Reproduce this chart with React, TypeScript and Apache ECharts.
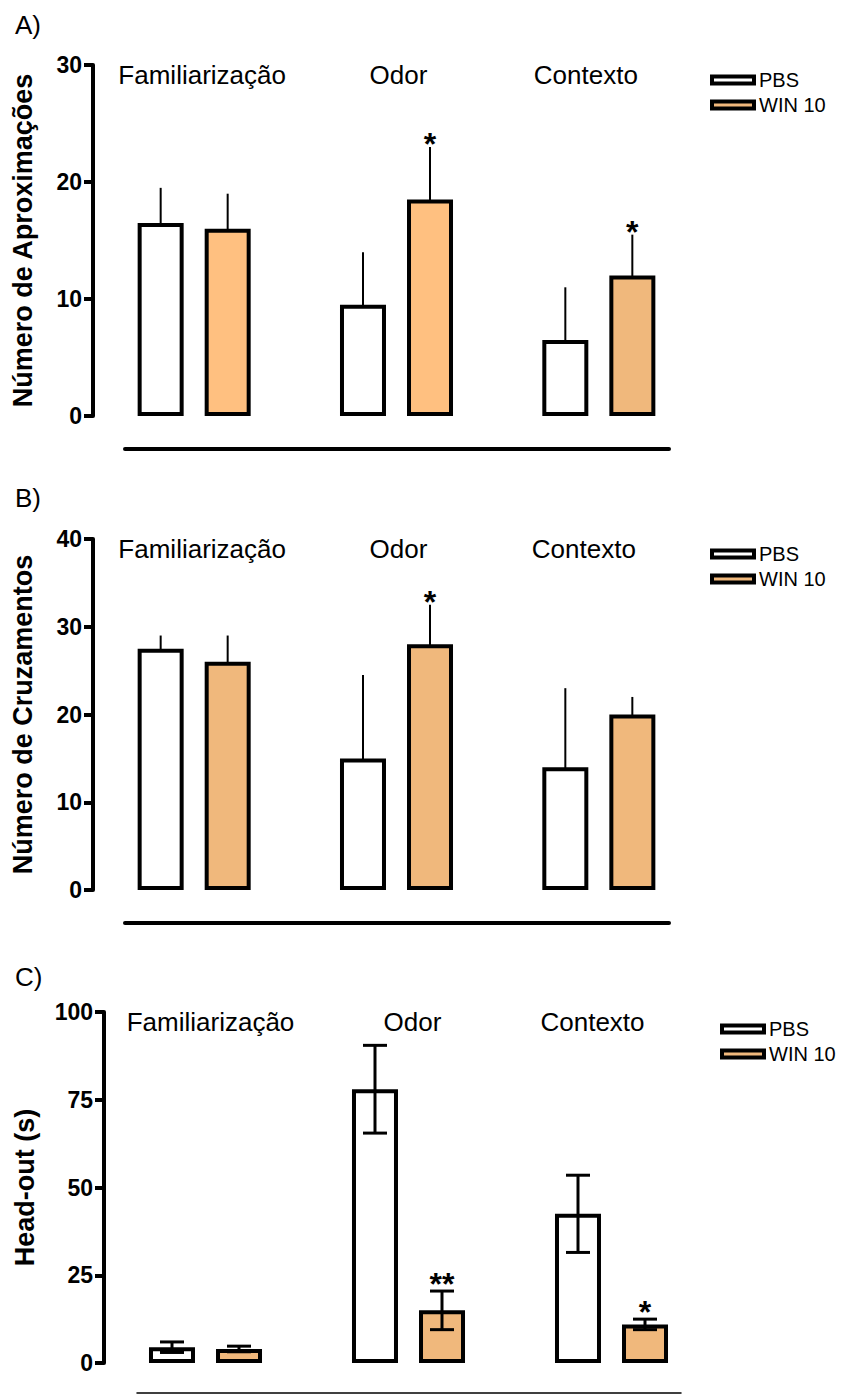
import React, { useEffect, useRef } from 'react';
import * as echarts from 'echarts';

// ---------- data ----------
const categories = ['Familiarização', 'Odor', 'Contexto'];
const seriesNames = ['PBS', 'WIN 10'];

// Panel A: Número de Aproximações
const pbsA = [16.5, 9.5, 6.5];
const pbsAErr = [3.0, 4.5, 4.5];
const winA = [16.0, 18.5, 12.0];
const winAErr = [3.0, 4.5, 3.5];
const pbsASig = ['', '', ''];
const winASig = ['', '*', '*'];

// Panel B: Número de Cruzamentos
const pbsB = [27.5, 15.0, 14.0];
const pbsBErr = [1.5, 9.5, 9.0];
const winB = [26.0, 28.0, 20.0];
const winBErr = [3.0, 4.5, 2.0];
const pbsBSig = ['', '', ''];
const winBSig = ['', '*', ''];

// Panel C: Head-out (s)
const pbsC = [4.5, 78.0, 42.5];
const pbsCErr = [1.5, 12.5, 11.0];
const winC = [4.0, 15.0, 11.0];
const winCErr = [0.8, 5.5, 1.5];
const pbsCSig = ['', '', ''];
const winCSig = ['', '**', '*'];

const yTicksA = [0, 10, 20, 30];
const yTicksB = [0, 10, 20, 30, 40];
const yTicksC = [0, 25, 50, 75, 100];

// ---------- styles ----------
const FONT = '"Liberation Sans", Arial, Helvetica, sans-serif';
const PBS_FILL = '#FFFFFF';
const WIN_FILL = '#F0B87C';
const WIN_FILL_LIGHT = '#FFC080';
const BAR_W = 46;
const BAR_GAP_PX = 21;
const HALF_OFF = (BAR_W + BAR_GAP_PX) / 2;

type Panel = {
  label: string;
  yName: string;
  pbs: number[];
  pbsErr: number[];
  pbsSig: string[];
  win: number[];
  winErr: number[];
  winSig: string[];
  winColors: string[];
  ticks: number[];
  grid: { left: number; top: number; width: number; height: number };
  nameGap: number;
  catShift: number[];
  twoSided: boolean;
  errWidth: number;
  sigGap: number;
  legendPos: { left: number; top: number };
  labelPos: { x: number; y: number };
  baseLine: { x1: number; x2: number; y: number; w: number };
};

const panels: Panel[] = [
  {
    label: 'A)',
    yName: 'Número de Aproximações',
    pbs: pbsA, pbsErr: pbsAErr, pbsSig: pbsASig,
    win: winA, winErr: winAErr, winSig: winASig,
    winColors: [WIN_FILL_LIGHT, WIN_FILL_LIGHT, WIN_FILL],
    ticks: yTicksA,
    grid: { left: 93, top: 65, width: 607, height: 351 },
    nameGap: 57,
    catShift: [8, 2, -13],
    twoSided: false,
    errWidth: 2,
    sigGap: 3,
    legendPos: { left: 705, top: 65 },
    labelPos: { x: 15, y: 12 },
    baseLine: { x1: 125, x2: 669, y: 449, w: 4 },
  },
  {
    label: 'B)',
    yName: 'Número de Cruzamentos',
    pbs: pbsB, pbsErr: pbsBErr, pbsSig: pbsBSig,
    win: winB, winErr: winBErr, winSig: winBSig,
    winColors: [WIN_FILL, WIN_FILL, WIN_FILL],
    ticks: yTicksB,
    grid: { left: 93, top: 539, width: 607, height: 351 },
    nameGap: 57,
    catShift: [8, 2, -15],
    twoSided: false,
    errWidth: 2,
    sigGap: 3,
    legendPos: { left: 705, top: 539 },
    labelPos: { x: 15, y: 485 },
    baseLine: { x1: 125, x2: 669, y: 923, w: 4 },
  },
  {
    label: 'C)',
    yName: 'Head-out (s)',
    pbs: pbsC, pbsErr: pbsCErr, pbsSig: pbsCSig,
    win: winC, winErr: winCErr, winSig: winCSig,
    winColors: [WIN_FILL, WIN_FILL, WIN_FILL],
    ticks: yTicksC,
    grid: { left: 104, top: 1012, width: 609, height: 351 },
    nameGap: 66,
    catShift: [5, 4, -19],
    twoSided: true,
    errWidth: 3,
    sigGap: 7,
    legendPos: { left: 715, top: 1014 },
    labelPos: { x: 15, y: 964 },
    baseLine: { x1: 137, x2: 681, y: 1393, w: 1.5 },
  },
];

function buildOption() {
  const grid: any[] = [];
  const xAxis: any[] = [];
  const yAxis: any[] = [];
  const series: any[] = [];
  const legend: any[] = [];
  const graphic: any[] = [];

  panels.forEach((p, pi) => {
    grid.push({ ...p.grid, containLabel: false });
    const rich: any = {};
    p.catShift.forEach((s, i) => {
      rich['c' + i] = {
        fontSize: 26,
        fontFamily: FONT,
        color: '#000',
        padding: s >= 0 ? [0, 0, 0, 2 * s] : [0, -2 * s, 0, 0],
      };
    });
    xAxis.push({
      type: 'category',
      gridIndex: pi,
      data: categories,
      position: 'top',
      axisLine: { show: false },
      axisTick: { show: false },
      splitLine: { show: false },
      axisLabel: {
        interval: 0,
        margin: -10,
        verticalAlign: 'middle',
        fontSize: 26,
        fontFamily: FONT,
        color: '#000',
        formatter: (v: string, i: number) => `{c${i}|${v}}`,
        rich,
      },
    });
    const max = p.ticks[p.ticks.length - 1];
    yAxis.push({
      type: 'value',
      gridIndex: pi,
      min: p.ticks[0],
      max,
      interval: p.ticks[1] - p.ticks[0],
      name: p.yName,
      nameLocation: 'middle',
      nameRotate: 90,
      nameGap: p.nameGap,
      nameTextStyle: { fontSize: 27, fontWeight: 'bold', fontFamily: FONT, color: '#000' },
      axisLine: { show: true, lineStyle: { color: '#000', width: 4 } },
      axisTick: { show: true, length: 9, lineStyle: { color: '#000', width: 4 } },
      axisLabel: { margin: 11, fontSize: 23, fontWeight: 'bold', fontFamily: FONT, color: '#000' },
      splitLine: { show: false },
    });

    const gapPct = ((BAR_GAP_PX / BAR_W) * 100).toFixed(1) + '%';
    series.push({
      type: 'bar',
      name: seriesNames[0],
      xAxisIndex: pi,
      yAxisIndex: pi,
      barWidth: BAR_W,
      barGap: gapPct,
      itemStyle: { color: PBS_FILL, borderColor: '#000', borderWidth: 4 },
      data: p.pbs,
      z: 2,
    });
    series.push({
      type: 'bar',
      name: seriesNames[1],
      xAxisIndex: pi,
      yAxisIndex: pi,
      barWidth: BAR_W,
      barGap: gapPct,
      itemStyle: { color: WIN_FILL, borderColor: '#000', borderWidth: 4 },
      data: p.win.map((v, i) => ({ value: v, itemStyle: { color: p.winColors[i] } })),
      z: 2,
    });

    const mkErr = (vals: number[], errs: number[], sigs: string[], side: number) => ({
      type: 'custom',
      xAxisIndex: pi,
      yAxisIndex: pi,
      z: 5,
      silent: true,
      encode: { x: 0, y: 1 },
      data: vals.map((v, i) => [i, v, errs[i]]),
      renderItem: (params: any, api: any) => {
        const ci = api.value(0);
        const mean = api.value(1);
        const err = api.value(2);
        const base = api.coord([ci, mean]);
        const x = base[0] + side * HALF_OFF;
        const yTop = api.coord([ci, mean + err])[1];
        const yBot = p.twoSided ? api.coord([ci, mean - err])[1] : base[1] + 2;
        const ls = { stroke: '#000', lineWidth: p.errWidth };
        const children: any[] = [
          { type: 'line', shape: { x1: x, y1: yBot, x2: x, y2: yTop }, style: ls },
        ];
        if (p.twoSided) {
          children.push({ type: 'line', shape: { x1: x - 12, y1: yTop, x2: x + 12, y2: yTop }, style: ls });
          children.push({ type: 'line', shape: { x1: x - 12, y1: yBot, x2: x + 12, y2: yBot }, style: ls });
        }
        const sig = sigs[params.dataIndex];
        if (sig) {
          children.push({
            type: 'text',
            style: {
              text: sig,
              x,
              y: yTop - p.sigGap,
              align: 'center',
              verticalAlign: 'middle',
              fontSize: 32,
              fontWeight: 'bold',
              fontFamily: FONT,
              fill: '#000',
            },
          });
        }
        return { type: 'group', children };
      },
    });
    series.push(mkErr(p.pbs, p.pbsErr, p.pbsSig, -1));
    series.push(mkErr(p.win, p.winErr, p.winSig, 1));

    legend.push({
      orient: 'vertical',
      left: p.legendPos.left,
      top: p.legendPos.top,
      data: seriesNames,
      icon: 'rect',
      itemWidth: 42,
      itemHeight: 7,
      itemGap: 5,
      selectedMode: false,
      itemStyle: { borderColor: '#000', borderWidth: 4 },
      textStyle: { fontSize: 20, fontFamily: FONT, color: '#000' },
    });

    graphic.push({
      type: 'text',
      left: p.labelPos.x,
      top: p.labelPos.y,
      style: { text: p.label, fontSize: 26, fontFamily: FONT, fill: '#000' },
    });
    graphic.push({
      type: 'line',
      shape: { x1: p.baseLine.x1, y1: p.baseLine.y, x2: p.baseLine.x2, y2: p.baseLine.y },
      style: { stroke: '#000', lineWidth: p.baseLine.w, lineCap: 'round' },
    });
  });

  return {
    animation: false,
    backgroundColor: '#fff',
    grid,
    xAxis,
    yAxis,
    series,
    legend,
    graphic,
  };
}

export default function App() {
  const ref = useRef<HTMLDivElement>(null);
  useEffect(() => {
    if (!ref.current) return;
    const chart = echarts.init(ref.current, undefined, { renderer: 'svg' });
    chart.setOption(buildOption() as any);
    return () => chart.dispose();
  }, []);
  return (
    <div
      ref={ref}
      style={{ position: 'absolute', left: 0, top: 0, width: 842, height: 1395, background: '#fff' }}
    />
  );
}
